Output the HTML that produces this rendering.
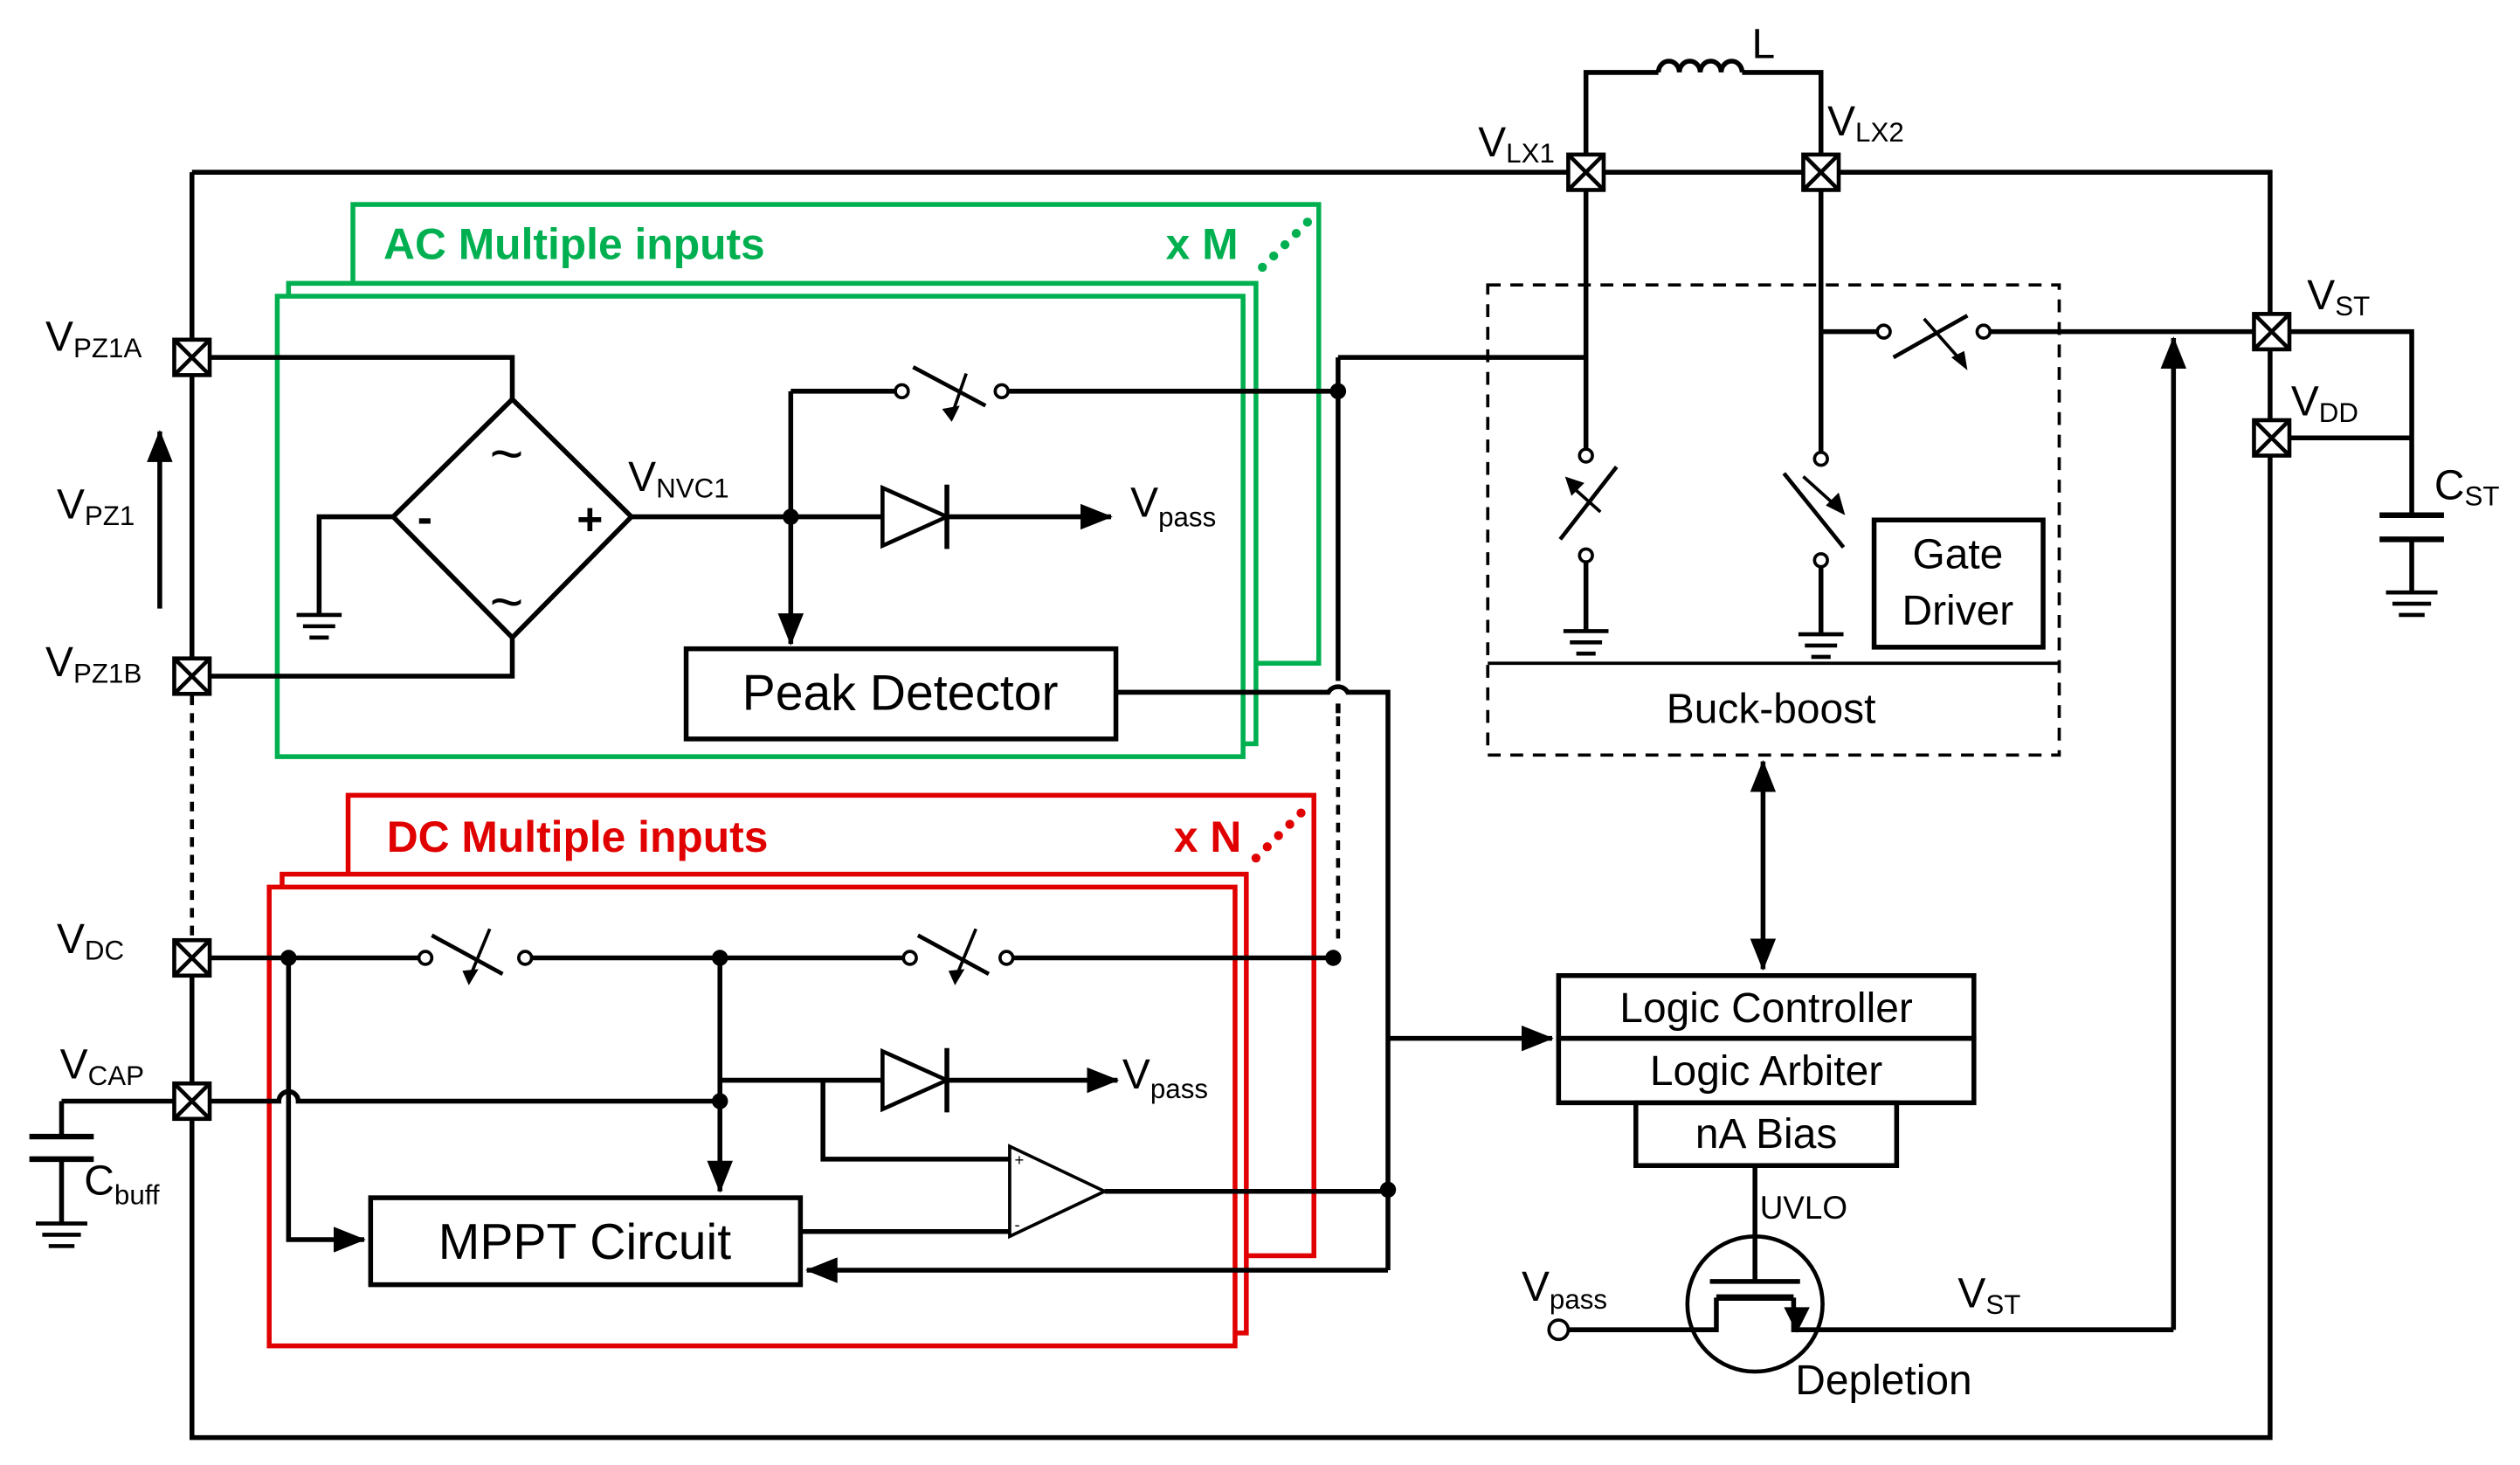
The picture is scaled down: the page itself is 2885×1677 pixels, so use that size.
<!DOCTYPE html>
<html><head><meta charset="utf-8"><style>
html,body{margin:0;padding:0;background:#fff}
svg{display:block}
text{font-family:"Liberation Sans",sans-serif;fill:#000}
</style></head><body>
<svg width="2885" height="1677" viewBox="0 0 1565 910" xmlns="http://www.w3.org/2000/svg">
<defs>
<marker id="arL" viewBox="0 0 20 16" markerWidth="20" markerHeight="16" refX="19" refY="8" orient="auto" markerUnits="userSpaceOnUse"><path d="M0,0 L20,8 L0,16 z" fill="#000"/></marker>
<marker id="arS" viewBox="0 0 20 16" markerWidth="20" markerHeight="16" refX="19" refY="8" orient="auto-start-reverse" markerUnits="userSpaceOnUse"><path d="M0,0 L20,8 L0,16 z" fill="#000"/></marker>
<g id="pad"><rect x="-11" y="-11" width="22" height="22"/><path d="M-11,-11 L11,11 M11,-11 L-11,11"/></g>
</defs>
<g fill="none" stroke="#000" stroke-width="3">
<path d="M119,107 H1410 V893 H119 V696"/>
<path d="M119,107 V410"/>
<path d="M119,432 V585" stroke-dasharray="6,5" stroke-width="2.5"/>
<path d="M119,606 V673"/>
</g>
<g fill="#fff" stroke="#00b050" stroke-width="3">
<rect x="219" y="127" width="600" height="285"/>
<rect x="179" y="176" width="601" height="286"/>
<rect x="172" y="184" width="600" height="286"/>
</g>
<text x="238" y="161" font-size="27" font-weight="bold" style="fill:#00b050">AC Multiple inputs</text>
<text x="724" y="161" font-size="27" font-weight="bold" style="fill:#00b050">x M</text>
<g fill="#00b050"><circle cx="784" cy="166" r="2.8"/><circle cx="791" cy="159" r="2.8"/><circle cx="798" cy="152" r="2.8"/><circle cx="805" cy="145" r="2.8"/><circle cx="812" cy="138" r="2.8"/></g>
<g fill="#fff" stroke="#e00000" stroke-width="3">
<rect x="216" y="494" width="600" height="286"/>
<rect x="175" y="543" width="599" height="285"/>
<rect x="167" y="551" width="600" height="285"/>
</g>
<text x="240" y="529" font-size="27" font-weight="bold" style="fill:#e00000">DC Multiple inputs</text>
<text x="729" y="529" font-size="27" font-weight="bold" style="fill:#e00000">x N</text>
<g fill="#e00000"><circle cx="780" cy="533" r="2.8"/><circle cx="787" cy="526" r="2.8"/><circle cx="794" cy="519" r="2.8"/><circle cx="801" cy="512" r="2.8"/><circle cx="808" cy="505" r="2.8"/></g>

<g fill="none" stroke="#000" stroke-width="3">
<path d="M130,222 H318 V248"/>
<path d="M130,420 H318 V396"/>
<path d="M318,248 L392,321 L318,396 L244,321 Z"/>
<path d="M244,321 H198 V382"/>
<path d="M184,382 H212 M188,389 H208 M192,396 H204" stroke-width="2.5"/>
<path d="M392,321 H548"/>
<path d="M588,321 H690" marker-end="url(#arL)"/>
<path d="M548,303 V339 L588,321 Z" stroke-width="2.5"/>
<path d="M588,301 V341"/>
<path d="M491,243 V400" marker-end="url(#arL)"/>
<rect x="426" y="403" width="267" height="56"/>
<path d="M491,243 H556 M626,243 H831"/>
<path d="M693,430 H825 A7,7 0 0 1 837,430 H862 V789"/>
<path d="M831,222 V423 M831,437 V443"/>
<path d="M831,445 V585" stroke-dasharray="6,5" stroke-width="2.5"/>
<path d="M831,222 H985"/>
<path d="M985,96 V45 H1030"/>
<path d="M1030,45 a6.5,7 0 0 1 13,0 a6.5,7 0 0 1 13,0 a6.5,7 0 0 1 13,0 a6.5,7 0 0 1 13,0"/>
<path d="M1082,45 H1131 V96"/>
<path d="M985,118 V279"/>
<path d="M1131,118 V281"/>
<path d="M1131,206 H1166 M1236,206 H1400"/>
<path d="M1350,826 V210" marker-end="url(#arL)"/>
<path d="M985,349 V392"/>
<path d="M971,392 H999 M975,399 H995 M979,406 H991" stroke-width="2.5"/>
<path d="M1131,352 V394"/>
<path d="M1117,394 H1145 M1121,401 H1141 M1125,408 H1137" stroke-width="2.5"/>
<path d="M1004,290 L969,335" stroke-width="2.5"/>
<path d="M1108,294 L1145,340" stroke-width="2.5"/>
<path d="M1176,222 L1222,196" stroke-width="2.5"/>
<rect x="924" y="177" width="355" height="292" stroke-dasharray="8,6" stroke-width="2"/>
<path d="M924,412 H1279" stroke-width="2"/>
<rect x="1164" y="323" width="105" height="79"/>
<path d="M1422,206 H1498 V320"/>
<path d="M1422,272 H1498"/>
<path d="M1478,320 H1518 M1478,335 H1518" stroke-width="3.5"/>
<path d="M1498,335 V368"/>
<path d="M1482,368 H1514 M1486,375 H1510 M1490,382 H1506" stroke-width="2.5"/>
<path d="M1095,473 V602" marker-start="url(#arS)" marker-end="url(#arS)"/>
<rect x="968" y="606" width="258" height="39"/>
<rect x="968" y="645" width="258" height="40"/>
<rect x="1016" y="685" width="162" height="39"/>
<path d="M862,645 H964" marker-end="url(#arL)"/>
<path d="M1090,724 V796"/>
<circle cx="1090" cy="810" r="42" stroke-width="2.5"/>
<path d="M1062,796 H1118" />
<path d="M1066,806 V826 H973"/>
<path d="M1114,806 V826 H1350"/>
<path d="M1066,806 H1114" stroke-width="4"/>
<path d="M130,595 H260 M330,595 H561 M629,595 H831"/>
<path d="M130,684 H173 A6,6 0 0 1 185,684 H447"/>
<path d="M179,595 V770 H226" marker-end="url(#arL)"/>
<path d="M447,595 V740" marker-end="url(#arL)"/>
<path d="M447,671 H548"/>
<path d="M588,671 H694" marker-end="url(#arL)"/>
<path d="M548,653 V689 L588,671 Z" stroke-width="2.5"/>
<path d="M588,651 V691"/>
<path d="M511,671 V720 H627"/>
<path d="M627,712 V768 L686,740 Z" stroke-width="2"/>
<path d="M686,740 H862"/>
<rect x="230" y="744" width="267" height="54"/>
<path d="M497,765 H627"/>
<path d="M862,789 H501" marker-end="url(#arL)"/>
<path d="M38,684 H108 M38,684 V706"/>
<path d="M18,706 H58 M18,720 H58" stroke-width="3.5"/>
<path d="M38,720 V760"/>
<path d="M22,760 H54 M26,767 H50 M30,774 H46" stroke-width="2.5"/>
<path d="M567,228 L612,252" stroke-width="2.5"/>
<path d="M268,581 L312,605" stroke-width="2.5"/>
<path d="M570,581 L614,605" stroke-width="2.5"/>
<path d="M99,378 V268" marker-end="url(#arL)"/>
</g>
<g fill="none" stroke="#000" stroke-width="2">
<path d="M600,232 L591,258"/><path d="M304,577 L292,606"/><path d="M606,577 L594,606"/>
<path d="M994,318 L976,302"/><path d="M1120,296 L1140,314"/><path d="M1195,198 L1218,224"/>
</g>
<g fill="#000">
<path d="M585,254 L591,262 L596,252 Z"/><path d="M287,603 L291,612 L297,602 Z"/><path d="M589,603 L593,612 L599,602 Z"/>
<path d="M972,296 L984,300 L976,308 Z"/><path d="M1146,320 L1134,314 L1142,306 Z"/><path d="M1222,230 L1212,222 L1220,218 Z"/>
<circle cx="491" cy="321" r="5"/><circle cx="831" cy="243" r="5"/>
<circle cx="179" cy="595" r="5"/><circle cx="447" cy="595" r="5"/><circle cx="828" cy="595" r="5"/>
<circle cx="447" cy="684" r="5"/><circle cx="862" cy="739" r="5"/>
<path d="M1108,812 L1124,812 L1116,828 Z"/>
</g>
<g fill="#fff" stroke="#000" stroke-width="2">
<circle cx="560" cy="243" r="4"/><circle cx="622" cy="243" r="4"/>
<circle cx="264" cy="595" r="4"/><circle cx="326" cy="595" r="4"/>
<circle cx="565" cy="595" r="4"/><circle cx="625" cy="595" r="4"/>
<circle cx="985" cy="283" r="4"/><circle cx="985" cy="345" r="4"/>
<circle cx="1131" cy="285" r="4"/><circle cx="1131" cy="348" r="4"/>
<circle cx="1170" cy="206" r="4"/><circle cx="1232" cy="206" r="4"/>
<circle cx="968" cy="826" r="6"/>
</g>
<g fill="#fff" stroke="#000" stroke-width="2.5">
<use href="#pad" x="119" y="222"/><use href="#pad" x="119" y="420"/>
<use href="#pad" x="119" y="595"/><use href="#pad" x="119" y="684"/>
<use href="#pad" x="985" y="107"/><use href="#pad" x="1131" y="107"/>
<use href="#pad" x="1411" y="206"/><use href="#pad" x="1411" y="272"/>
</g>
<text x="630" y="724" font-size="10">+</text><text x="630" y="764" font-size="10">-</text>
<text x="304" y="294" font-size="36">~</text><text x="304" y="386" font-size="36">~</text>
<text x="259" y="331" font-size="28" font-weight="bold">-</text>
<text x="358" y="332" font-size="28" font-weight="bold">+</text>
<g font-size="26">
<text x="28" y="218">V<tspan font-size="17" dy="4">PZ1A</tspan></text>
<text x="35" y="322">V<tspan font-size="17" dy="4">PZ1</tspan></text>
<text x="28" y="420">V<tspan font-size="17" dy="4">PZ1B</tspan></text>
<text x="35" y="592">V<tspan font-size="17" dy="4">DC</tspan></text>
<text x="37" y="670">V<tspan font-size="17" dy="4">CAP</tspan></text>
<text x="52" y="742">C<tspan font-size="17" dy="6">buff</tspan></text>
<text x="390" y="305">V<tspan font-size="17" dy="4">NVC1</tspan></text>
<text x="702" y="321">V<tspan font-size="17" dy="6">pass</tspan></text>
<text x="697" y="676">V<tspan font-size="17" dy="6">pass</tspan></text>
<text x="918" y="97">V<tspan font-size="17" dy="4">LX1</tspan></text>
<text x="1135" y="84">V<tspan font-size="17" dy="4">LX2</tspan></text>
<text x="1088" y="36">L</text>
<text x="1433" y="192">V<tspan font-size="17" dy="4">ST</tspan></text>
<text x="1423" y="258">V<tspan font-size="17" dy="4">DD</tspan></text>
<text x="1512" y="310">C<tspan font-size="17" dy="4">ST</tspan></text>
<text x="945" y="808">V<tspan font-size="17" dy="5">pass</tspan></text>
<text x="1216" y="812">V<tspan font-size="17" dy="4">ST</tspan></text>
</g>
<text x="559" y="441" font-size="31" text-anchor="middle">Peak Detector</text>
<text x="363" y="782" font-size="31" text-anchor="middle">MPPT Circuit</text>
<text x="1216" y="353" font-size="26" text-anchor="middle">Gate</text>
<text x="1216" y="388" font-size="26" text-anchor="middle">Driver</text>
<text x="1100" y="449" font-size="26" text-anchor="middle">Buck-boost</text>
<text x="1097" y="635" font-size="26" text-anchor="middle">Logic Controller</text>
<text x="1097" y="674" font-size="26" text-anchor="middle">Logic Arbiter</text>
<text x="1097" y="713" font-size="26" text-anchor="middle">nA Bias</text>
<text x="1093" y="757" font-size="20">UVLO</text>
<text x="1115" y="866" font-size="26">Depletion</text>
</svg>
</body></html>
